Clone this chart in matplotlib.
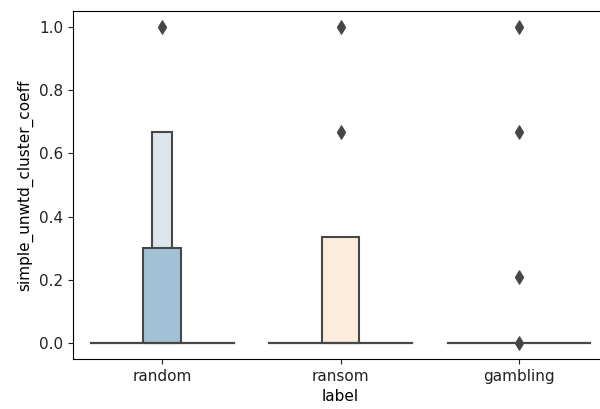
import numpy as np
import matplotlib
matplotlib.use('Agg')
import matplotlib.pyplot as plt

################### *** chart data *** ####################################################

labels = ['random', 'ransom', 'gambling']
medians = [0.0, 0.0, 0.0]

# letter-value boxes: (category index, lower, upper, width, colour), drawn outer first
box_cat = [0, 0, 1]
box_lo = [0.0, 0.0, 0.0]
box_hi = [0.667, 0.30, 0.335]
box_w = [0.11, 0.21, 0.21]
box_col = ['#dde6ee', '#a3c1d6', '#fcecdc']

# outliers per category
out_cat = [0, 1, 1, 2, 2, 2, 2]
out_val = [1.0, 1.0, 0.667, 1.0, 0.667, 0.21, 0.0]

################## *** plot data *** ######################################################

edge = '#474747'

fig = plt.figure(figsize=(6.0, 4.09), dpi=100)
ax = fig.add_axes([73/600, 50/409, 535/600, 348/409])

ax.bar(box_cat, np.array(box_hi) - np.array(box_lo), width=box_w, bottom=box_lo,
       color=box_col, edgecolor=edge, linewidth=1.5, zorder=2)

for i, m in enumerate(medians):
    ax.plot([i - 0.4, i + 0.4], [m, m], color=edge, lw=1.6, zorder=3)

ax.scatter(out_cat, out_val, marker='d', s=45, color=edge, zorder=4)

ax.set_xlim(-0.5, 2.5)
ax.set_ylim(-0.05, 1.05)
ax.set_xticks(range(len(labels)))
ax.set_xticklabels(labels)
ax.set_yticks(np.arange(0, 1.01, 0.2))
ax.tick_params(labelsize=11, colors='#222222')
ax.set_xlabel('label', fontsize=11)
ax.set_ylabel('simple_unwtd_cluster_coeff', fontsize=11)

plt.savefig('out.png', dpi=100)
plt.close()
